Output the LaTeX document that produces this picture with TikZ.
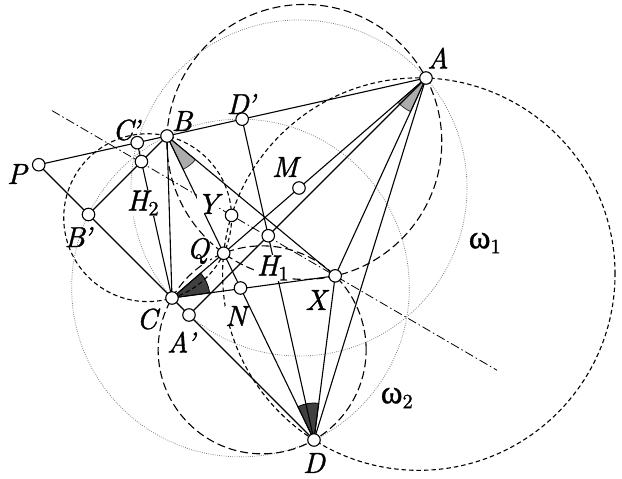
\documentclass[tikz,border=0pt]{standalone}
\usepackage{fontspec}
\newfontfamily\grk{Liberation Serif}[FakeBold=1]
\newfontfamily\lblfont{lmroman10-italic}[Extension=.otf,FakeBold=1.2]
\newfontfamily\lblup{lmroman10-regular}[Extension=.otf,FakeBold=1.2]
\usetikzlibrary{calc}
\newcommand\prm{\kern-2.5pt\textquoteright}
\begin{document}
\begin{tikzpicture}[x=1pt,y=-1pt,
  vtx/.style={circle,draw,fill=white,inner sep=0pt,minimum size=12.5pt,line width=1.1pt},
  lbl/.style={font=\fontsize{29}{32}\lblfont,inner sep=0.5pt},
  lblw/.style={lbl,fill=white},
  seg/.style={line width=1.1pt},
  longdash/.style={line width=1.1pt,dash pattern=on 8pt off 4pt},
  shortdash/.style={line width=1.1pt,dash pattern=on 4.5pt off 3pt},
  dotc/.style={line width=0.8pt,gray,dash pattern=on 0.8pt off 1.4pt},
  dashdot/.style={line width=0.8pt,dash pattern=on 9pt off 3pt on 1.5pt off 3pt},
  lightw/.style={fill=gray!65,draw=black!80,line width=0.8pt},
  darkw/.style={fill=black!75,draw=black,line width=0.8pt}]
\useasboundingbox (0,0) rectangle (622,479);
% points
\coordinate (A) at (426,78);
\coordinate (B) at (167,136);
\coordinate (C) at (172,298);
\coordinate (D) at (314,440);
\coordinate (P) at (38.73,164.73);
\coordinate (Q) at (223.69,253.23);
\coordinate (M) at (299,188);
\coordinate (N) at (240.5,288);
\coordinate (A1) at (189,315);
\coordinate (B1) at (88.5,214.5);
\coordinate (C1) at (137.22,142.67);
\coordinate (D1) at (242.15,119.17);
\coordinate (H1) at (268.26,235.74);
\coordinate (H2) at (141.45,161.55);
\coordinate (X) at (335.21,275.85);
\coordinate (Y) at (231.57,215.39);
\coordinate (O1) at (304.32,141.92);
\coordinate (O2) at (262.15,349.85);
\coordinate (O3) at (147.66,217.67);
\coordinate (O4) at (418.81,274.10);
\coordinate (L1) at ($(Y)!-1.7326!(X)$);
\coordinate (L2) at ($(Y)!2.561!(X)$);
% angle wedges
\filldraw[lightw] let \p1=($(C)-(A)$),\p2=($(X)-(A)$),\n1={atan2(\y1,\x1)},\n2={atan2(\y2,\x2)} in
  (A) -- ++(\n1:37pt) arc[start angle=\n1,end angle=\n2,radius=37pt] -- cycle;
\filldraw[lightw] let \p1=($(D)-(B)$),\p2=($(X)-(B)$),\n1={atan2(\y1,\x1)},\n2={atan2(\y2,\x2)} in
  (B) -- ++(\n1:37pt) arc[start angle=\n1,end angle=\n2,radius=37pt] -- cycle;
\filldraw[darkw] let \p1=($(A)-(C)$),\p2=($(X)-(C)$),\n1={atan2(\y1,\x1)},\n2={atan2(\y2,\x2)} in
  (C) -- ++(\n1:38pt) arc[start angle=\n1,end angle=\n2,radius=38pt] -- cycle;
\filldraw[darkw] let \p1=($(B)-(D)$),\p2=($(X)-(D)$),\n1={atan2(\y1,\x1)},\n2={atan2(\y2,\x2)} in
  (D) -- ++(\n1:37pt) arc[start angle=\n1,end angle=\n2,radius=37pt] -- cycle;
% circles
\draw[dotc] (M) circle[radius=168.01pt];
\draw[dotc] (N) circle[radius=168.84pt];
\draw[longdash] (O1) circle[radius=137.45pt];
\draw[longdash] (O2) circle[radius=104pt];
\draw[shortdash] (O3) circle[radius=83.93pt];
\draw[shortdash] (O4) circle[radius=196.23pt];
\draw[dashdot] (L1) -- (L2);
% segments
\draw[seg] (P) -- (A);
\draw[seg] (P) -- (D);
\draw[seg] (A) -- (C);
\draw[seg] (B) -- (D);
\draw[seg] (B) -- (X);
\draw[seg] (C) -- (X);
\draw[seg] (A) -- (A1);
\draw[seg] (D) -- (D1);
\draw[seg] (B) -- (B1);
\draw[seg] (C) -- (C1);
\draw[seg] (A) -- (X);
\draw[seg] (A) -- (D);
\draw[seg] (D) -- (X);
\draw[seg] (B) -- (C);
% labels
\node[lbl] (lA) at (438,58) {A};
\node[lbl] (lB) at (182,121) {B};
\node[lbl] (lD1) at (241,104) {D\prm};
\node[lbl] (lC1) at (126,130) {C\prm};
\node[lbl] (lP) at (17,174) {P};
\node[lblw] (lH2) at (143,203) {H{\lblup\textsubscript{2}}};
\node[lblw] (lY) at (208,204) {Y};
\node[lbl] (lB1) at (78,237) {B\prm};
\node[lblw] (lQ) at (198,251) {Q};
\node[lblw] (lH1) at (273,268) {H{\lblup\textsubscript{1}}};
\node[lbl] (lX) at (316,300) {X};
\node[lblw] (lN) at (236,316) {N};
\node[lbl] (lC) at (147,319) {C};
\node[lbl] (lA1) at (181,342) {A\prm};
\node[lbl] (lM) at (285,167) {M};
\node[lbl] (lD) at (314,463) {D};
\node[lbl] (lw1) at (485,243) {{\grk\fontsize{33}{36}\selectfont ω}{\lblup\textsubscript{1}}};
\node[lbl] (lw2) at (397,398) {{\grk\fontsize{33}{36}\selectfont ω}{\lblup\textsubscript{2}}};
% vertices
\foreach \p in {A,B,C,D,P,Q,M,N,A1,B1,C1,D1,H1,H2,X,Y}
  \node[vtx] (v\p) at (\p) {};
\end{tikzpicture}
\end{document}
